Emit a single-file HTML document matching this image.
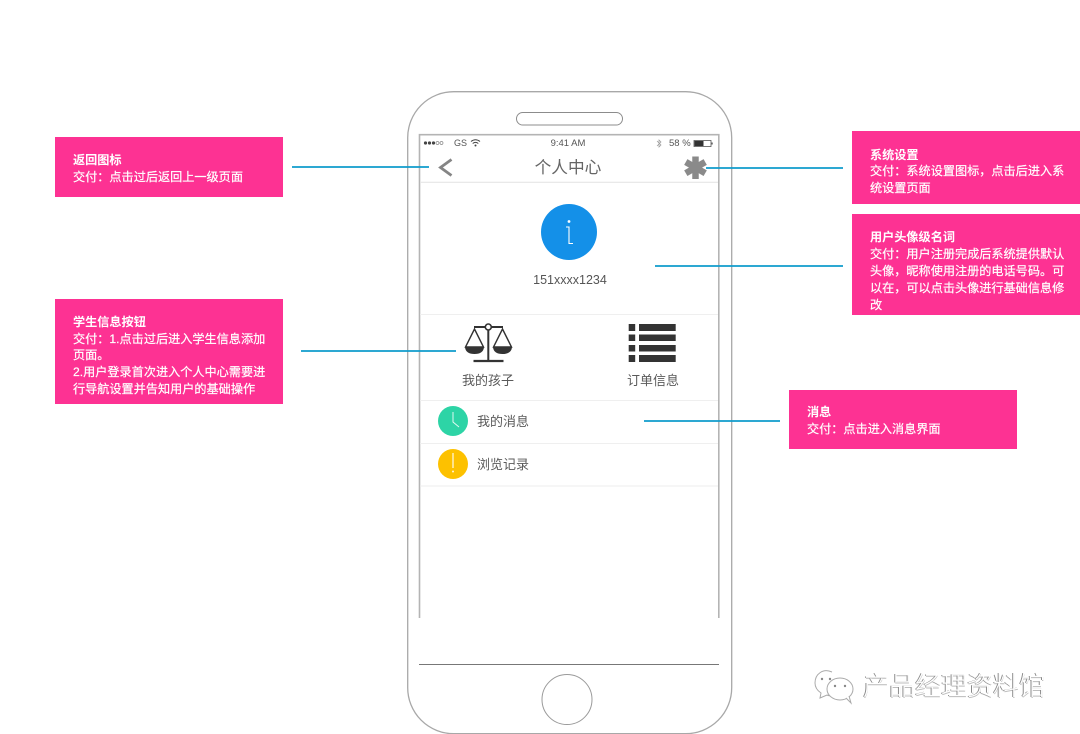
<!DOCTYPE html>
<html lang="zh">
<head>
<meta charset="utf-8">
<style>
html,body{margin:0;padding:0;background:#fff;}
#p{position:relative;width:1080px;height:734px;overflow:hidden;background:#fff;font-family:"Liberation Sans","Noto Sans CJK SC",sans-serif;}
svg{position:absolute;left:0;top:0;}
.box{position:absolute;background:#fd3293;}
.t{position:absolute;white-space:nowrap;color:#fff;font-size:12.15px;line-height:17px;height:17px;-webkit-text-stroke:.2px #fff;}
.b{font-weight:700;-webkit-text-stroke:0;}
.g{position:absolute;white-space:nowrap;text-align:center;line-height:18px;color:#5a5a5a;}
</style>
</head>
<body>
<div id="p">
<svg width="1080" height="734" viewBox="0 0 1080 734">
  <!-- phone -->
  <rect x="407.7" y="91.7" width="324" height="642" rx="46" ry="46" fill="#fff" stroke="#a8a8a8" stroke-width="1.3"/>
  <rect x="516.5" y="112.5" width="106" height="12.5" rx="6.2" fill="#fff" stroke="#8c8c8c" stroke-width="1"/>
  <path d="M419.5 618V134.7H718.8V618" fill="none" stroke="#b4b4b4" stroke-width="1.6"/>
  <line x1="419" y1="664.5" x2="719" y2="664.5" stroke="#777" stroke-width="1"/>
  <circle cx="567" cy="699.5" r="25" fill="#fff" stroke="#9a9a9a" stroke-width="1"/>
  <!-- dividers -->
  <line x1="420" y1="182.3" x2="718" y2="182.3" stroke="#e6e6e6" stroke-width="1.2"/>
  <line x1="420" y1="314.5" x2="718" y2="314.5" stroke="#efefef"/>
  <line x1="420" y1="400.5" x2="718" y2="400.5" stroke="#efefef"/>
  <line x1="420" y1="443.5" x2="718" y2="443.5" stroke="#efefef"/>
  <line x1="420" y1="486" x2="718" y2="486" stroke="#ececec"/>
  <!-- status -->
  <g fill="#444"><circle cx="425.5" cy="143" r="1.6"/><circle cx="429.5" cy="143" r="1.6"/><circle cx="433.5" cy="143" r="1.6"/></g>
  <g fill="none" stroke="#888" stroke-width=".7"><circle cx="437.5" cy="143" r="1.5"/><circle cx="441.5" cy="143" r="1.5"/></g>
  <path d="M471 141.5q4.5-3.5 9 0M472.7 143.5q2.8-2.2 5.6 0" fill="none" stroke="#444" stroke-width="1"/>
  <circle cx="475.5" cy="145.5" r="1" fill="#444"/>
  <path d="M657 141l4 4-2 2v-7l2 2-4 4" fill="none" stroke="#999" stroke-width=".7"/>
  <rect x="694" y="140.5" width="17" height="6" fill="none" stroke="#555" stroke-width=".8"/>
  <rect x="694.5" y="141" width="9" height="5" fill="#333"/>
  <rect x="711.5" y="142.5" width="1.2" height="2" fill="#555"/>
  <!-- chevron -->
  <path d="M451.5 159.5L440.5 167.5L451.5 175.5" fill="none" stroke="#858585" stroke-width="2.8"/>
  <!-- asterisk -->
  <g stroke="#8a8a8a" stroke-width="6.5">
    <line x1="695.5" y1="156.5" x2="695.5" y2="179"/>
    <line x1="685.8" y1="162" x2="705.2" y2="173.2"/>
    <line x1="685.8" y1="173.2" x2="705.2" y2="162"/>
  </g>
  <!-- avatar -->
  <circle cx="569" cy="232" r="28" fill="#1490e8"/>
  <circle cx="569" cy="221.5" r="1.4" fill="#fff"/>
  <path d="M566 227H569V243.5H573" fill="none" stroke="#fff" stroke-width="1.1"/>
  <!-- scale -->
  <g fill="none" stroke="#333">
    <line x1="474" y1="327" x2="503" y2="327" stroke-width="2"/>
    <circle cx="488.3" cy="327" r="3" fill="#fff" stroke-width="1.6"/>
    <line x1="488.3" y1="330" x2="488.3" y2="361" stroke-width="2"/>
    <line x1="473.5" y1="361" x2="503.5" y2="361" stroke-width="2.2"/>
    <path d="M474.5 329L465.5 347H483.5Z" stroke-width="1.4"/>
    <path d="M502.5 329L493.5 347H511.5Z" stroke-width="1.4"/>
  </g>
  <path d="M465 347.5H484Q483 354 474.5 354Q466 354 465 347.5Z" fill="#333"/>
  <path d="M493 347.5H512Q511 354 502.5 354Q494 354 493 347.5Z" fill="#333"/>
  <!-- list icon -->
  <g fill="#333">
    <rect x="628.7" y="324" width="6.5" height="7"/><rect x="639" y="324" width="36.7" height="7"/>
    <rect x="628.7" y="334.5" width="6.5" height="6.5"/><rect x="639" y="334.5" width="36.7" height="6.5"/>
    <rect x="628.7" y="345" width="6.5" height="6.5"/><rect x="639" y="345" width="36.7" height="6.5"/>
    <rect x="628.7" y="355" width="6.5" height="7"/><rect x="639" y="355" width="36.7" height="7"/>
  </g>
  <!-- rows icons -->
  <circle cx="453" cy="421" r="15" fill="#2dd4a6"/>
  <path d="M453 412V422L459 427" fill="none" stroke="#fff" stroke-width="1" opacity=".85"/>
  <circle cx="453" cy="464" r="15" fill="#fdc100"/>
  <line x1="453" y1="453" x2="453" y2="468" stroke="#fff" stroke-width="1.3" opacity=".85"/>
  <circle cx="453" cy="471.5" r="1" fill="#fff" opacity=".85"/>
  <!-- connectors -->
  <g stroke="#0f9bcc" stroke-width="1.8">
    <line x1="292" y1="167" x2="429" y2="167"/>
    <line x1="706" y1="168" x2="843" y2="168"/>
    <line x1="655" y1="266" x2="843" y2="266"/>
    <line x1="301" y1="351" x2="456" y2="351"/>
    <line x1="644" y1="421" x2="780" y2="421"/>
  </g>
  <!-- wechat mark -->
  <g fill="#fff" stroke="#aaa" stroke-width="1">
    <path d="M832 672C823 668 815 674 815 683C815 688 818 691 821 693L820 698L827 695C829 696 831 696 833 696"/>
    <ellipse cx="840" cy="689" rx="13" ry="11"/>
    <path d="M846 698L851 703L849 696"/>
  </g>
  <g fill="#888"><circle cx="822" cy="679" r="1.2"/><circle cx="830" cy="679" r="1.2"/><circle cx="835" cy="686" r="1.2"/><circle cx="845" cy="686" r="1.2"/></g>
</svg>

<div class="g" style="left:454px;top:134px;font-size:9px;color:#555;">GS</div>
<div class="g" style="left:540px;top:135px;width:56px;font-size:9.5px;color:#555;">9:41 AM</div>
<div class="g" style="left:669px;top:135px;font-size:9.5px;color:#555;">58 %</div>
<div class="g" style="left:518px;top:158px;width:100px;font-size:16.7px;color:#666;line-height:20px;">个人中心</div>
<div class="g" style="left:510px;top:271px;width:120px;font-size:12.5px;color:#555;">151xxxx1234</div>
<div class="g" style="left:448px;top:372px;width:80px;font-size:13px;">我的孩子</div>
<div class="g" style="left:613px;top:372px;width:80px;font-size:13px;">订单信息</div>
<div class="g" style="left:477px;top:413px;font-size:13px;">我的消息</div>
<div class="g" style="left:477px;top:456px;font-size:13px;">浏览记录</div>

<div class="box" style="left:55px;top:137px;width:228px;height:60px;"></div>
<div class="t b" style="left:73px;top:152px;">返回图标</div>
<div class="t" style="left:73px;top:169px;">交付：点击过后返回上一级页面</div>

<div class="box" style="left:55px;top:299px;width:228px;height:105px;"></div>
<div class="t b" style="left:73px;top:314px;">学生信息按钮</div>
<div class="t" style="left:73px;top:331px;">交付：1.点击过后进入学生信息添加</div>
<div class="t" style="left:73px;top:347px;">页面。</div>
<div class="t" style="left:73px;top:364px;">2.用户登录首次进入个人中心需要进</div>
<div class="t" style="left:73px;top:381px;">行导航设置并告知用户的基础操作</div>

<div class="box" style="left:852px;top:131px;width:228px;height:73px;"></div>
<div class="t b" style="left:870px;top:147px;">系统设置</div>
<div class="t" style="left:870px;top:163px;">交付：系统设置图标，点击后进入系</div>
<div class="t" style="left:870px;top:180px;">统设置页面</div>

<div class="box" style="left:852px;top:214px;width:228px;height:101px;"></div>
<div class="t b" style="left:870px;top:229px;">用户头像级名词</div>
<div class="t" style="left:870px;top:246px;">交付：用户注册完成后系统提供默认</div>
<div class="t" style="left:870px;top:263px;">头像，昵称使用注册的电话号码。可</div>
<div class="t" style="left:870px;top:280px;">以在，可以点击头像进行基础信息修</div>
<div class="t" style="left:870px;top:297px;">改</div>

<div class="box" style="left:789px;top:390px;width:228px;height:59px;"></div>
<div class="t b" style="left:807px;top:404px;">消息</div>
<div class="t" style="left:807px;top:421px;">交付：点击进入消息界面</div>

<div style="position:absolute;left:863px;top:670px;font-size:26px;line-height:32px;white-space:nowrap;color:#fff;font-weight:300;text-shadow:-1px 0 0 #8a8a8a,0 1px 0 #bdbdbd;">产品经理资料馆</div>
</div>
</body>
</html>
